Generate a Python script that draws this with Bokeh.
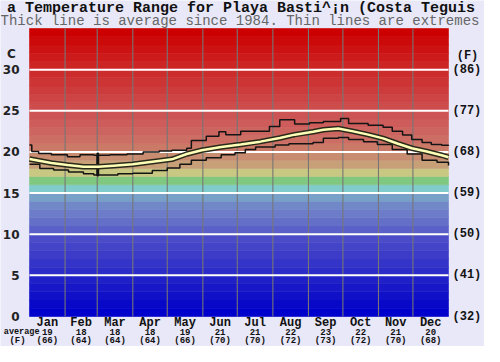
from bokeh.plotting import figure
from bokeh.models import Range1d
from bokeh.core.properties import value
from bokeh.embed import file_html
from bokeh.resources import INLINE

# ---------------- data ----------------
title_text = "a Temperature Range for Playa Basti^\u00a1n (Costa Teguis"
subtitle_text = "Thick line is average since 1984. Thin lines are extremes"

months = ["Jan", "Feb", "Mar", "Apr", "May", "Jun", "Jul", "Aug", "Sep", "Oct", "Nov", "Dec"]
month_days = [31, 28, 31, 30, 31, 30, 31, 31, 30, 31, 30, 31]
avg_c = [19, 18, 18, 18, 19, 21, 21, 22, 23, 22, 21, 20]
avg_f = [66, 64, 64, 64, 66, 70, 70, 72, 73, 72, 70, 68]

c_ticks = [0, 5, 10, 15, 20, 25, 30]
c_labels = ["0", "5", "10", "15", "20", "25", "30"]
f_labels = ["(32)", "(41)", "(50)", "(59)", "(68)", "(77)", "(86)"]

# extremes (day of year, degC)
max_day = [0, 2, 8, 19, 33, 44, 56, 59, 60, 70, 85, 99, 113, 124, 137, 141, 154, 165, 171,
           184, 197, 209, 218, 231, 244, 256, 271, 278, 295, 308, 316, 325, 333, 342, 350, 359, 365]
max_temp = [20.85, 20.05, 19.8, 19.65, 19.4, 19.65, 19.6, 17.1, 19.6, 19.65, 19.75, 20.0, 20.1, 20.2,
            20.45, 21.4, 21.9, 22.45, 22.1, 22.5, 22.5, 23.1, 23.9, 23.4, 23.55, 23.7, 24.05, 23.45,
            23.25, 23.0, 22.5, 22.05, 21.5, 21.15, 20.9, 20.8, 20.75]

min_day = [0, 9, 21, 34, 47, 56, 59, 60, 64, 77, 90, 107, 120, 131, 141, 154, 167, 179, 188, 197,
           214, 226, 247, 256, 269, 278, 291, 303, 316, 329, 342, 355, 365]
min_temp = [18.5, 18.0, 17.8, 17.55, 17.35, 17.2, 19.85, 17.2, 17.2, 17.35, 17.4, 17.75, 18.05, 18.5,
            19.0, 19.3, 19.65, 19.9, 20.3, 20.6, 20.85, 21.0, 21.15, 21.65, 21.75, 21.5, 21.25, 20.9,
            20.3, 19.75, 19.0, 18.75, 18.35]

avg_day = [0, 19, 33, 47, 60, 73, 90, 107, 124, 137, 150, 167, 184, 201, 218, 231, 247, 256, 269,
           282, 295, 308, 321, 333, 346, 359, 365]
avg_temp = [19.15, 18.65, 18.4, 18.2, 18.2, 18.33, 18.5, 18.8, 19.1, 19.75, 20.2, 20.6, 20.9, 21.25,
            21.7, 22.1, 22.45, 22.7, 22.85, 22.5, 22.1, 21.65, 21.0, 20.45, 20.05, 19.6, 19.35]

# colour band per degree (0-1 ... 34-35)
band_colors = [
    "#0000cc", "#0808c8", "#1010c8", "#1818c8", "#2020c8", "#2c2cc8", "#3434c8", "#3c3cc8",
    "#4444c8", "#4c4cc8", "#5a60c8", "#6470c8", "#6c7cc8", "#7088c8", "#78a0c8", "#80cccc",
    "#80c880", "#c8c882", "#c8a078", "#c88c70", "#cc7a68", "#cc6e64", "#cc645f", "#cd5c5a",
    "#cd5454", "#cd4c4c", "#cd4444", "#cd3c3c", "#cd3434", "#cd2c2c", "#cd2424", "#cd1a1a",
    "#cc1212", "#cc0a0a", "#cc0000",
]

# ---------------- layout (figure pixels) ----------------
W, H = 484, 346
L, R, T, B = 29, 448, 28, 316        # band area inside the canvas
DAYS, TOP = 365, 35
kx = (R - L) / DAYS
ky = (B - T) / TOP

FONT_MONO = "Liberation Mono"
FONT_SANS = "DejaVu Sans"
BG = "#e8e8f8"

p = figure(width=W, height=H,
           x_range=Range1d(-L / kx, DAYS + (W - R) / kx),
           y_range=Range1d(-(H - B) / ky, TOP + T / ky),
           output_backend="svg", toolbar_location=None,
           x_axis_location=None, y_axis_location=None, title_location=None,
           min_border=0, min_border_left=0, min_border_right=0,
           min_border_top=0, min_border_bottom=0)
p.border_fill_color = BG
p.background_fill_color = BG
p.outline_line_color = None
p.grid.visible = False

# colour bands
band_lo = list(range(len(band_colors)))
band_hi = [b + 1 for b in band_lo]
p.quad(left=0, right=DAYS, bottom=band_lo, top=band_hi, fill_color=band_colors,
       line_color=band_colors, line_width=0.6)

# grid lines
month_starts = [sum(month_days[:i]) for i in range(13)]
inner = month_starts[1:-1]
p.segment(x0=inner, y0=[0] * len(inner), x1=inner, y1=[TOP] * len(inner),
          line_color="#767676", line_width=1.1)
hl = c_ticks[1:]
p.segment(x0=[0] * len(hl), y0=hl, x1=[DAYS] * len(hl), y1=hl, line_color="white", line_width=2)

# extremes and average
p.step(max_day, max_temp, mode="after", line_color="#141414", line_width=1.5)
p.step(min_day, min_temp, mode="after", line_color="#141414", line_width=1.5)
p.line(avg_day, avg_temp, line_color="#2a2a1a", line_width=5.5)
p.line(avg_day, avg_temp, line_color="#ffffb8", line_width=2.5)

def txt(x, y, t, font, size, align="center", style="bold", color="#111111", dx=0, dy=0):
    p.text(x=x, y=y, text=t, text_font=value(font), text_font_size=size,
           text_font_style=style, text_color=color, text_align=align,
           text_baseline="middle", x_offset=dx, y_offset=dy)

# titles
txt([DAYS / 2], [TOP], [title_text], FONT_MONO, "15px", dx=2, dy=-20)
txt([DAYS / 2], [TOP], [subtitle_text], FONT_MONO, "14px", style="normal", color="#666666",
    dx=1, dy=-8)

# left (C) and right (F) scales
txt([0] * len(c_ticks), c_ticks, c_labels, FONT_SANS, "12px", align="right",
    color="#222222", dx=-10)
txt([0], [TOP], ["C"], FONT_SANS, "12px", color="#222222", dx=-18, dy=25)
txt([DAYS] * len(c_ticks), c_ticks, f_labels, FONT_MONO, "12px", align="left", dx=4)
txt([DAYS], [TOP], ["(F)"], FONT_MONO, "12px", dx=19, dy=27)

# bottom rows
centers = [(month_starts[i] + month_starts[i + 1]) / 2 for i in range(12)]
zeros = [0] * 12
txt(centers, zeros, months, FONT_MONO, "12px", dy=6)
txt(centers, zeros, [str(v) for v in avg_c], FONT_MONO, "9px", dy=15)
txt(centers, zeros, ["(%d)" % v for v in avg_f], FONT_MONO, "9px", dy=24)
txt([0], [0], ["average"], FONT_MONO, "8.5px", align="right", dx=10, dy=15)
txt([0], [0], ["(F)"], FONT_MONO, "9px", dx=-12, dy=24)

open("out.html", "w").write(file_html(p, INLINE))
